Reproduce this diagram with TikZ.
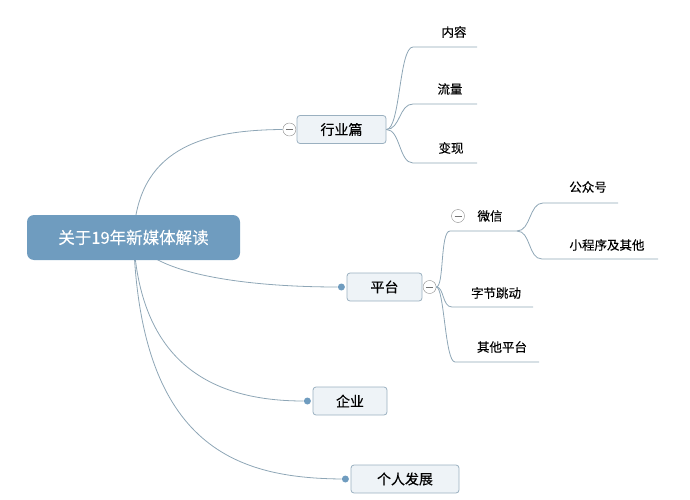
\documentclass[tikz,border=0pt]{standalone}
\usepackage{fontspec}
\setmainfont{Noto Sans CJK SC}[FakeBold=0.15]
\usepackage{tikz}
\usetikzlibrary{positioning,backgrounds}
\definecolor{rootblue}{HTML}{6F9CBF}
\definecolor{linegray}{HTML}{8EA6B6}
\definecolor{boxfill}{HTML}{EEF3F7}
\definecolor{boxedge}{HTML}{9AB0C0}

\begin{document}
\begin{tikzpicture}[
  x=1pt,y=-1pt,
  %--- node styles ---
  root/.style  ={fill=rootblue,text=white,rounded corners=7pt,
                 minimum width=213pt,minimum height=45pt,font=\fontsize{16.5}{18}\selectfont},
  topic/.style ={draw=boxedge,thick,fill=boxfill,text=black,rounded corners=3pt,
                 minimum height=28pt,font=\fontsize{14}{16}\selectfont},
  leaf/.style  ={text=black,inner sep=0pt,font=\fontsize{12.5}{14}\selectfont},
  fold/.style  ={circle,draw=black!45,fill=white,minimum size=13pt,inner sep=0pt,
                 path picture={\draw[black!55,semithick]
                   ([xshift=-3.5pt]path picture bounding box.center) --
                   ([xshift=3.5pt]path picture bounding box.center);}},
  dot/.style   ={circle,fill=rootblue,minimum size=7pt,inner sep=0pt},
  %--- line style ---
  branch/.style={draw=linegray,thick},
]
\useasboundingbox (0,0) rectangle (690,500);

%==================== nodes ====================
\node[root]  (root) at (133.5,237.5) {关于19年新媒体解读};

\node[topic,minimum width=89pt]  (hy) at (341.5,129.5) {行业篇};
\node[topic,minimum width=75pt]  (pt) at (384.5,287)   {平台};
\node[topic,minimum width=74pt]  (qy) at (350,401)     {企业};
\node[topic,minimum width=108pt] (gr) at (405,479)     {个人发展};

\node[fold,left=0.5pt of hy]  (hyF) {};
\node[fold,right=0.5pt of pt] (ptF) {};
\node[dot,left=1.5pt of pt]   (ptD) {};
\node[dot,left=1.5pt of qy]   (qyD) {};
\node[dot,left=1.5pt of gr]   (grD) {};

%==================== leaves ====================
\node[leaf] (nr) at (454,32)  {内容};
\node[leaf] (ll) at (450,89)  {流量};
\node[leaf] (bx) at (451,148) {变现};

\node[leaf] (wx)  at (490,216) {微信};
\node[fold] (wxF) at (458,216) {};
\node[leaf] (gzh) at (588,187) {公众号};
\node[leaf] (xcx) at (607,245) {小程序及其他};
\node[leaf] (zj)  at (496,293) {字节跳动};
\node[leaf] (qt)  at (502,347) {其他平台};

% underline ends
\coordinate (nrA)  at (413,47);  \coordinate (nrB)  at (477,47);
\coordinate (llA)  at (413,104); \coordinate (llB)  at (477,104);
\coordinate (bxA)  at (413,163); \coordinate (bxB)  at (477,163);
\coordinate (wxA)  at (450,231); \coordinate (wxB)  at (517,231);
\coordinate (gzhA) at (543,203); \coordinate (gzhB) at (618,203);
\coordinate (xcxA) at (542,259); \coordinate (xcxB) at (658,259);
\coordinate (zjA)  at (452,307); \coordinate (zjB)  at (533,307);
\coordinate (qtA)  at (455,362); \coordinate (qtB)  at (539,362);

%==================== root branches (behind root) ====================
\begin{pgfonlayer}{background}
\draw[branch] (root.center) .. controls (137,150) and (200,130) .. (hyF.west);
\draw[branch] (root.center) .. controls (150,275) and (250,287) .. (ptD.west);
\draw[branch] (root.center) .. controls (140,370) and (220,401) .. (qyD.west);
\draw[branch] (root.center) .. controls (140,450) and (240,478) .. (grD.west);
\end{pgfonlayer}

%==================== sub-branches ====================
\foreach \k in {nr,ll,bx}
  \draw[branch] (hy.east) .. controls +(14,0) and +(-14,0) .. (\k A) -- (\k B);
\foreach \k in {wx,zj,qt}
  \draw[branch] (ptF.east) .. controls +(8,0) and +(-10,0) .. (\k A) -- (\k B);
\foreach \k in {gzh,xcx}
  \draw[branch] (wxB) .. controls +(14,0) and +(-14,0) .. (\k A) -- (\k B);

\end{tikzpicture}
\end{document}
